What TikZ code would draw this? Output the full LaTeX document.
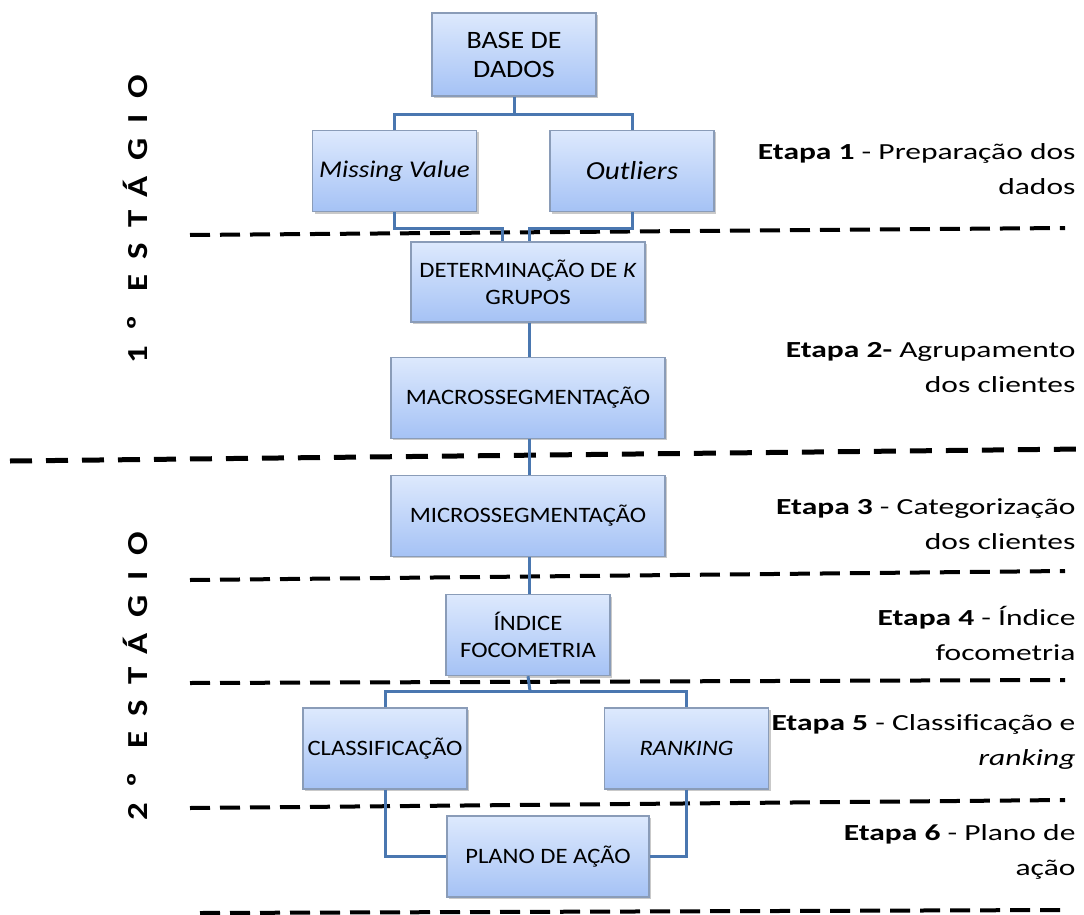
\documentclass[tikz,border=0pt]{standalone}
\usepackage{fontspec}
\setmainfont{Carlito}[FakeStretch=1.12]
\newfontfamily\etapafont{Carlito}[FakeStretch=1.37]
\newfontfamily\stagefont{Carlito}[LetterSpace=54, FakeStretch=1.2]
\usetikzlibrary{positioning,shadows,calc}

\definecolor{boxtop}{HTML}{DDE9FD}
\definecolor{boxbottom}{HTML}{A5C2F5}
\definecolor{boxline}{HTML}{8A9CB8}
\definecolor{linkblue}{HTML}{4A77B0}

\begin{document}
\begin{tikzpicture}[
    x=1pt, y=-1pt,
    font=\fontsize{22}{27}\selectfont,
    node distance=34pt,
    box/.style={
        draw=boxline,
        line width=1.2pt,
        top color=boxtop,
        bottom color=boxbottom,
        align=center,
        inner sep=2pt,
        minimum width=164pt,
        minimum height=81pt,
        drop shadow={shadow xshift=2pt, shadow yshift=-2pt, opacity=0.3, fill=black!70}
    },
    link/.style={
        draw=linkblue,
        line width=3pt
    },
    sep/.style={
        line width=4pt,
        dash pattern=on 20pt off 10pt
    },
    etapa/.style={
        anchor=east,
        align=right,
        font=\etapafont\fontsize{23}{35}\selectfont
    },
    stage/.style={
        rotate=90,
        anchor=base,
        font=\stagefont\bfseries\fontsize{29}{32}\selectfont
    }
]
\useasboundingbox (0,0) rectangle (1084,915);

% Separators
\draw[sep] (190,235) -- (1065,228);
\draw[sep, line width=5pt, dash pattern=on 22pt off 14pt] (10,461) -- (1082,449);
\draw[sep] (190,580) -- (1065,571);
\draw[sep] (190,683) -- (1065,680);
\draw[sep] (190,808) -- (1065,800);
\draw[sep] (200,913) -- (1065,910);

% Stages
\node[stage] (stage1) at (147,219) {1º ESTÁGIO};
\node[stage] (stage2) at (147,676) {2º ESTÁGIO};

% Etapa 1
\node[box, minimum height=83pt, font=\fontsize{25}{29}\selectfont] (base) at (514,54.5) {BASE DE\\DADOS};
\node[box, font=\fontsize{24}{28}\selectfont] (missing) at (394.5,171) {\textit{Missing Value}};
\node[box, font=\fontsize{26}{30}\selectfont] (outliers) at (632,171) {\textit{Outliers}};

% Etapa 2
\node[box, minimum width=234pt, minimum height=80pt] (det) at (528,282) {DETERMINAÇÃO DE \textit{K}\\GRUPOS};
\node[box, minimum width=274pt, below=34pt of det] (macro) {MACROSSEGMENTAÇÃO};

% Etapa 3 and 4
\node[box, minimum width=274pt, below=36pt of macro] (micro) {MICROSSEGMENTAÇÃO};
\node[box, below=37pt of micro] (indice) {ÍNDICE\\FOCOMETRIA};

% Etapa 5 and 6
\node[box] (classif) at (385,748.5) {CLASSIFICAÇÃO};
\node[box] (ranking) at (686.5,748.5) {\textit{RANKING}};
\node[box, minimum width=202pt] (plano) at (548,856.5) {PLANO DE AÇÃO};

% Forks
\coordinate (fork1) at (514,115);
\coordinate (fork2) at (530,691);

% Connections
\draw[link] (base) -- (fork1);
\draw[link] (missing.north) |- (fork1) -| (outliers.north);
\draw[link] (missing.south) -- ++(0,16) -| ([xshift=-26pt]det.north);
\draw[link] (outliers.south) -- ++(0,16) -| ([xshift=1pt]det.north);
\draw[link] ([xshift=1pt]det.south) -- ([xshift=1pt]macro.north);
\draw[link] ([xshift=1pt]macro.south) -- ([xshift=1pt]micro.north);
\draw[link] ([xshift=1pt]micro.south) -- ([xshift=1pt]indice.north);
\draw[link] (indice.south) -- (fork2);
\draw[link] (classif.north) |- (fork2) -| (ranking.north);
\draw[link] (classif.south) |- (plano.west);
\draw[link] (ranking.south) |- (plano.east);

% Etapas
\node[etapa] (etapa1) at (1079,169) {\textbf{Etapa 1} - Preparação dos\\dados};
\node[etapa] (etapa2) at (1079,368) {\textbf{Etapa 2-} Agrupamento\\dos clientes};
\node[etapa] (etapa3) at (1079,524) {\textbf{Etapa 3} - Categorização\\dos clientes};
\node[etapa] (etapa4) at (1079,633) {\textbf{Etapa 4} - Índice\\focometria};
\node[etapa] (etapa5) at (1079,742) {\textbf{Etapa 5} - Classificação e\\\textit{ranking}};
\node[etapa] (etapa6) at (1079,852) {\textbf{Etapa 6} - Plano de\\ação};

\end{tikzpicture}
\end{document}
